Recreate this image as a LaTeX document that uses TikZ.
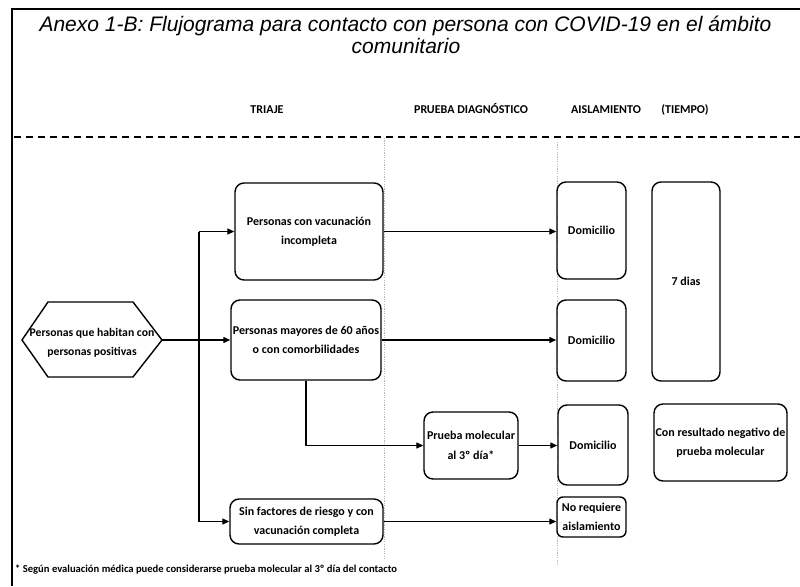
\documentclass[tikz,border=0pt]{standalone}
\usepackage{fontspec}
\setmainfont{Carlito}
\newfontfamily\titlefont{Liberation Sans}
\usetikzlibrary{arrows.meta}
\begin{document}
\begin{tikzpicture}[x=1pt,y=-1pt,
  box/.style={draw, line width=1.4pt, rounded corners=9pt, align=center, inner sep=1pt,
    font=\fontsize{12}{19.5}\selectfont\bfseries},
  head/.style={font=\fontsize{12}{13}\selectfont\bfseries, anchor=base},
  ttl/.style={font=\titlefont\itshape\fontsize{21}{21}\selectfont, anchor=base, inner sep=0pt},
  arr/.style={line width=1.3pt, -{Triangle[length=7pt,width=6pt]}},
  ln/.style={line width=1.3pt},
  guide/.style={gray!55, line width=0.9pt, dash pattern=on 1.2pt off 1.2pt}]
\useasboundingbox (0,0) rectangle (800,586);
\fill[white] (0,0) rectangle (800,586);
% frame
\draw[line width=1.6pt] (800,9) -- (12,9) -- (12,586);
% title
\node[ttl] (title1) at (405.5,32) {Anexo 1-B: Flujograma para contacto con persona con COVID-19 en el ámbito};
\node[ttl] (title2) at (406,53) {comunitario};
% headers
\node[head] (hTriaje) at (267,113) {TRIAJE};
\node[head] (hPrueba) at (471,113) {PRUEBA DIAGNÓSTICO};
\node[head] (hAisl) at (606,113) {AISLAMIENTO};
\node[head] (hTiempo) at (685,113) {(TIEMPO)};
\draw[line width=1.8pt, dash pattern=on 7pt off 5pt] (14,137) -- (800,137);
% guides
\draw[guide] (384,138) -- (384,560);
\draw[guide] (557,142) -- (557,565);
% hexagon
\draw[line width=1.4pt] (22,340) -- (48,302) -- (133,302) -- (162,340) -- (133,377) -- (48,377) -- cycle;
\node[font=\fontsize{11.7}{19.5}\selectfont\bfseries, align=center, inner sep=0pt] (hex) at (92,343)
  {Personas que habitan con\\personas positivas};
\coordinate (hexR) at (162,340);
% triage boxes
\node[box, minimum width=148pt, minimum height=97pt] (b1) at (309,231.5) {Personas con vacunación\\incompleta};
\node[box, minimum width=150pt, minimum height=80pt] (b2) at (306,340) {Personas mayores de 60 años\\o con comorbilidades};
\node[box, minimum width=153pt, minimum height=45pt] (b3) at (306.5,521.5) {Sin factores de riesgo y con\\vacunación completa};
% test
\node[box, minimum width=94pt, minimum height=67pt] (pm) at (471,445.5) {Prueba molecular\\al 3º día*};
% isolation
\node[box, minimum width=69pt, minimum height=97pt] (d1) at (591.5,230.5) {Domicilio};
\node[box, minimum width=69pt, minimum height=81pt] (d2) at (591.5,340.5) {Domicilio};
\node[box, minimum width=70pt, minimum height=80pt] (d3) at (593,445) {Domicilio};
\node[box, rounded corners=6pt, minimum width=69pt, minimum height=40pt] (nr) at (591.5,517) {No requiere\\aislamiento};
% time
\node[box, minimum width=68pt, minimum height=199pt] (t7) at (686,281.5) {7 dias};
\node[box, minimum width=133pt, minimum height=77pt] (cr) at (720.5,442.5) {Con resultado negativo de\\prueba molecular};
% connectors
\coordinate (jx) at (199,340);
\draw[arr] (hexR) -- (b2.west);
\draw[ln] (b1.west -| jx) -- (b3.west -| jx);
\draw[arr] (b1.west -| jx) -- (b1.west);
\draw[arr] (b3.west -| jx) -- (b3.west);
\draw[arr] (b1.east) -- (d1.west |- b1.east);
\draw[arr] (b2.east) -- (d2.west |- b2.east);
\draw[arr] (b2.south) |- (pm.west);
\draw[arr] (pm.east) -- (d3.west |- pm.east);
\draw[arr] (b3.east) -- (nr.west |- b3.east);
% footnote
\node[font=\fontsize{10.6}{12}\selectfont\bfseries, anchor=base west, inner sep=0pt] (foot) at (15,572)
  {* Según evaluación médica puede considerarse prueba molecular al 3º día del contacto};
\end{tikzpicture}
\end{document}
